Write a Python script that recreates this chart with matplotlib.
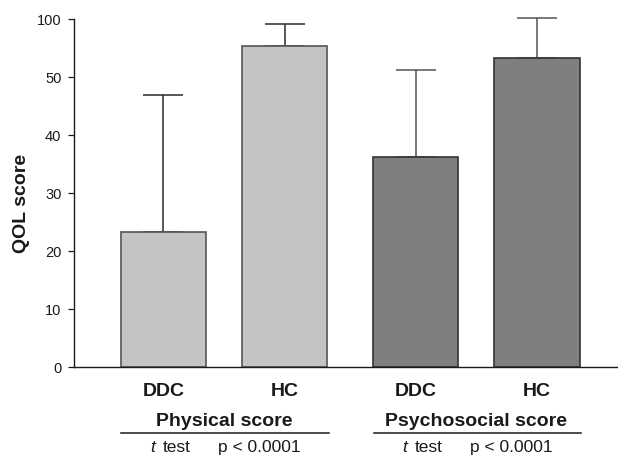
import numpy as np
import matplotlib
matplotlib.use("Agg")
import matplotlib.pyplot as plt

plt.rcParams["font.family"] = ["Liberation Sans", "DejaVu Sans"]

# ── Data (values in axis units; top tick is labelled "100") ─────────
groups = ["Physical score", "Psychosocial score"]
bar_labels = ["DDC", "HC", "DDC", "HC"]
means = [23.3, 55.3, 36.2, 53.2]
upper = [46.8, 59.0, 51.2, 60.1]
yticks = [0, 10, 20, 30, 40, 50, 60]
ytick_labels = ["0", "10", "20", "30", "40", "50", "100"]
test_name = "test"
p_text = "p < 0.0001"

bar_colors = ["#c4c4c4", "#c4c4c4", "#807e7f", "#807e7f"]
edge_colors = ["#555555", "#555555", "#333333", "#333333"]
err_colors = ["#2a2a2a", "#2a2a2a", "#555555", "#555555"]

# ── Figure ───────────────────────────────────────────────────
fig = plt.figure(figsize=(6.18, 4.56), dpi=100)
ax = fig.add_axes([0.1202, 0.1936, 0.8798, 0.7632])

pos = np.array([0, 1, 2.08, 3.08])
means = np.array(means)
upper = np.array(upper)

ax.bar(pos, means, width=0.705, color=bar_colors, edgecolor=edge_colors,
       linewidth=1.2, zorder=2)
for i in range(len(pos)):
    eb = ax.errorbar(pos[i], means[i], yerr=[[0], [upper[i] - means[i]]],
                     fmt="none", ecolor=err_colors[i], elinewidth=1.1,
                     capsize=14.4, capthick=1.1, zorder=1)
    for art in eb.lines[1] + eb.lines[2]:
        art.set_clip_on(False)

ax.set_xlim(-0.734, 3.75)
ax.set_ylim(0, 60)
ax.set_yticks(yticks)
ax.set_yticklabels(ytick_labels, fontsize=10.5, color="#1a1a1a")
ax.tick_params(axis="y", length=4.3, width=0.9, pad=5, color="#1a1a1a")
ax.set_xticks([])

for side in ["top", "right"]:
    ax.spines[side].set_visible(False)
for side in ["left", "bottom"]:
    ax.spines[side].set_linewidth(1.0)
    ax.spines[side].set_color("#1a1a1a")

ax.text(-0.097, 0.473, "QOL score", transform=ax.transAxes, rotation=90,
        ha="center", va="center", fontsize=14, fontweight="bold",
        color="#1a1a1a")

# bar labels
for x, lab in zip(pos, bar_labels):
    ax.text(x, -4.88, lab, ha="center", va="baseline", fontsize=14,
            fontweight="bold", color="#1a1a1a", clip_on=False)

# group labels, rule and test result
centers = [(pos[0] + pos[1]) / 2, (pos[2] + pos[3]) / 2]
for c, g in zip(centers, groups):
    ax.text(c, -10.05, g, ha="center", va="baseline", fontsize=14,
            fontweight="bold", color="#1a1a1a", clip_on=False)
    ax.plot([c - 0.845, c + 0.865], [-11.48, -11.48], color="#1a1a1a",
            linewidth=1.1, clip_on=False)
    ax.text(c - 0.61, -14.55, "t", ha="left", va="baseline", fontsize=12.5,
            fontstyle="italic", color="#1a1a1a", clip_on=False)
    ax.text(c - 0.505, -14.55, test_name, ha="left", va="baseline",
            fontsize=12.5, color="#1a1a1a", clip_on=False)
    ax.text(c - 0.05, -14.55, p_text, ha="left", va="baseline",
            fontsize=12.5, color="#1a1a1a", clip_on=False)

plt.savefig("out.png", dpi=100)
plt.close()
